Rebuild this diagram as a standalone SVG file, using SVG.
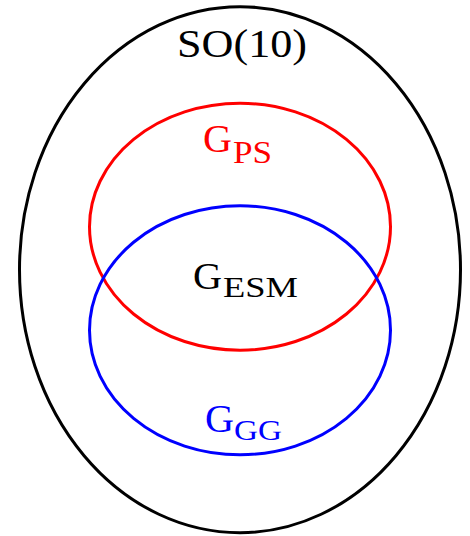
<svg xmlns="http://www.w3.org/2000/svg" width="470" height="536" viewBox="0 0 470 536">
<style>
.ring{fill:none;stroke-width:3}
.t{font-family:"Liberation Serif","DejaVu Serif",serif}
</style>
<rect width="470" height="536" fill="#fff"/>
<g id="so10">
<ellipse class="ring" cx="240" cy="269.7" rx="220.5" ry="263" stroke="#000"/>
<text class="t" x="177" y="57" font-size="41" textLength="130" lengthAdjust="spacingAndGlyphs" fill="#000">SO(10)</text>
</g>
<g id="gps">
<ellipse class="ring" cx="240" cy="226.7" rx="150.5" ry="123.5" stroke="#f00"/>
<text class="t" x="203" y="152" font-size="40" textLength="29" lengthAdjust="spacingAndGlyphs" fill="#f00">G</text>
<text class="t" x="233" y="163" font-size="31" textLength="39" lengthAdjust="spacingAndGlyphs" fill="#f00">PS</text>
</g>
<g id="ggg">
<ellipse class="ring" cx="240" cy="330.3" rx="150.5" ry="124.5" stroke="#00f"/>
<text class="t" x="205" y="432" font-size="40" textLength="29" lengthAdjust="spacingAndGlyphs" fill="#00f">G</text>
<text class="t" x="234" y="440" font-size="30" textLength="48" lengthAdjust="spacingAndGlyphs" fill="#00f">GG</text>
</g>
<g id="gesm">
<text class="t" x="193" y="289" font-size="38" textLength="29" lengthAdjust="spacingAndGlyphs" fill="#000">G</text>
<text class="t" x="223" y="297" font-size="30" textLength="75" lengthAdjust="spacingAndGlyphs" fill="#000">ESM</text>
</g>
<g id="connectors"></g>
</svg>
